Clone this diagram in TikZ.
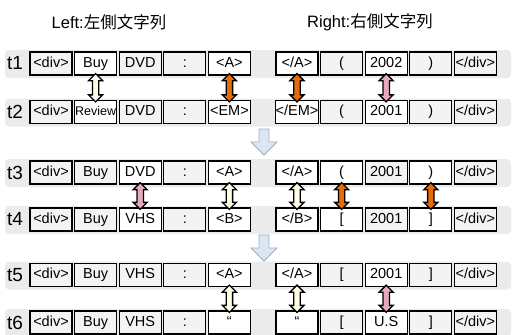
\documentclass[tikz,border=0pt]{standalone}
\usepackage{fontspec}
\setmainfont{Liberation Sans}
\newfontfamily\cjkfont{Noto Sans CJK JP}
\usetikzlibrary{calc}
\definecolor{bandgray}{HTML}{EBEBEB}
\definecolor{cellgray}{HTML}{F3F3F3}
\definecolor{arrorange}{HTML}{E46C0A}
\definecolor{arrpink}{HTML}{E8A9BC}
\definecolor{arrcream}{HTML}{FFFDE3}
\definecolor{flowfill}{HTML}{DCE6F2}
\definecolor{flowline}{HTML}{9DAFC4}
\tikzset{
  cellbase/.style={draw=black, line width=1.3pt, minimum width=42pt, minimum height=23pt,
    inner sep=0pt, text height=10.5pt, text depth=3pt, font=\fontsize{14.5}{16}\selectfont},
  gc/.style={cellbase, fill=cellgray},
  wc/.style={cellbase, fill=white},
  rowlab/.style={inner sep=0pt, font=\fontsize{19}{22}\selectfont},
  titletext/.style={inner sep=0pt, font=\fontsize{16.5}{19}\selectfont},
  band/.style={fill=bandgray, rounded corners=4pt},
  flowarr/.style={fill=flowfill, draw=flowline, line width=0.8pt, line join=miter},
  dblstyle/.style={draw=black, line width=1.3pt, line join=miter}
}
\newcommand\dblarr[3]{%
  \draw[dblstyle, fill=#3] let \p1=(#1.south), \p2=(#2.north) in
    (\x1,\y1+2pt) -- (\x1+7pt,\y1-5pt) -- (\x1+3.2pt,\y1-5pt) -- (\x1+3.2pt,\y2+5pt)
    -- (\x1+7pt,\y2+5pt) -- (\x1,\y2-2pt) -- (\x1-7pt,\y2+5pt) -- (\x1-3.2pt,\y2+5pt)
    -- (\x1-3.2pt,\y1-5pt) -- (\x1-7pt,\y1-5pt) -- cycle;}
\begin{document}
\begin{tikzpicture}[x=1pt,y=-1pt]
\useasboundingbox (0,0) rectangle (512,335);
% row bands
\foreach \c in {63.5,112,172.5,219.5,275,322.5}
  \fill[band] (5,\c-13.5) rectangle (511,\c+14.5);
% titles
\node[titletext] (tleft) at (109,22) {Left:{\cjkfont 左側文字列}};
\node[titletext] (tright) at (370,22) {Right:{\cjkfont 右側文字列}};
% row labels
\node[rowlab] (l1) at (15,63.5) {t1};
\node[rowlab] (l2) at (15,112) {t2};
\node[rowlab] (l3) at (15,172.5) {t3};
\node[rowlab] (l4) at (15,219.5) {t4};
\node[rowlab] (l5) at (15,275) {t5};
\node[rowlab] (l6) at (15,322.5) {t6};
% t1
\node[gc] (r1c1) at (51,63.5) {<div>};
\node[wc] (r1c2) at (95.6,63.5) {Buy};
\node[gc] (r1c3) at (140.2,63.5) {DVD};
\node[gc] (r1c4) at (184.8,63.5) {:};
\node[wc] (r1c5) at (229.4,63.5) {<A>};
\node[wc] (r1c6) at (297,63.5) {</A>};
\node[gc] (r1c7) at (341.6,63.5) {(};
\node[wc] (r1c8) at (386.2,63.5) {2002};
\node[gc] (r1c9) at (430.8,63.5) {)};
\node[gc] (r1c10) at (475.4,63.5) {</div>};
% t2
\node[gc] (r2c1) at (51,112) {<div>};
\node[wc] (r2c2) at (95.6,112) {\fontsize{12.5}{14}\selectfont Review};
\node[gc] (r2c3) at (140.2,112) {DVD};
\node[gc] (r2c4) at (184.8,112) {:};
\node[wc] (r2c5) at (229.4,112) {<EM>};
\node[wc] (r2c6) at (297,112) {</EM>};
\node[gc] (r2c7) at (341.6,112) {(};
\node[wc] (r2c8) at (386.2,112) {2001};
\node[gc] (r2c9) at (430.8,112) {)};
\node[gc] (r2c10) at (475.4,112) {</div>};
% t3
\node[gc] (r3c1) at (51,172.5) {<div>};
\node[gc] (r3c2) at (95.6,172.5) {Buy};
\node[wc] (r3c3) at (140.2,172.5) {DVD};
\node[gc] (r3c4) at (184.8,172.5) {:};
\node[wc] (r3c5) at (229.4,172.5) {<A>};
\node[wc] (r3c6) at (297,172.5) {</A>};
\node[wc] (r3c7) at (341.6,172.5) {(};
\node[gc] (r3c8) at (386.2,172.5) {2001};
\node[wc] (r3c9) at (430.8,172.5) {)};
\node[gc] (r3c10) at (475.4,172.5) {</div>};
% t4
\node[gc] (r4c1) at (51,219.5) {<div>};
\node[gc] (r4c2) at (95.6,219.5) {Buy};
\node[wc] (r4c3) at (140.2,219.5) {VHS};
\node[gc] (r4c4) at (184.8,219.5) {:};
\node[wc] (r4c5) at (229.4,219.5) {<B>};
\node[wc] (r4c6) at (297,219.5) {</B>};
\node[wc] (r4c7) at (341.6,219.5) {[};
\node[gc] (r4c8) at (386.2,219.5) {2001};
\node[wc] (r4c9) at (430.8,219.5) {]};
\node[gc] (r4c10) at (475.4,219.5) {</div>};
% t5
\node[gc] (r5c1) at (51,275) {<div>};
\node[gc] (r5c2) at (95.6,275) {Buy};
\node[gc] (r5c3) at (140.2,275) {VHS};
\node[gc] (r5c4) at (184.8,275) {:};
\node[wc] (r5c5) at (229.4,275) {<A>};
\node[wc] (r5c6) at (297,275) {</A>};
\node[gc] (r5c7) at (341.6,275) {[};
\node[wc] (r5c8) at (386.2,275) {2001};
\node[gc] (r5c9) at (430.8,275) {]};
\node[gc] (r5c10) at (475.4,275) {</div>};
% t6
\node[gc] (r6c1) at (51,322.5) {<div>};
\node[gc] (r6c2) at (95.6,322.5) {Buy};
\node[gc] (r6c3) at (140.2,322.5) {VHS};
\node[gc] (r6c4) at (184.8,322.5) {:};
\node[wc] (r6c5) at (229.4,322.5) {“};
\node[wc] (r6c6) at (297,322.5) {“};
\node[gc] (r6c7) at (341.6,322.5) {[};
\node[wc] (r6c8) at (386.2,322.5) {U.S};
\node[gc] (r6c9) at (430.8,322.5) {]};
\node[gc] (r6c10) at (475.4,322.5) {</div>};
% flow arrows
\coordinate (f1) at (264,129);
\coordinate (f2) at (264,235);
\draw[flowarr] (f1) ++(-5,0) -- ++(10,0) -- ++(0,13) -- ++(8,0) -- ++(-13,13) -- ++(-13,-13) -- ++(8,0) -- cycle;
\draw[flowarr] (f2) ++(-5,0) -- ++(10,0) -- ++(0,13) -- ++(8,0) -- ++(-13,13) -- ++(-13,-13) -- ++(8,0) -- cycle;
% correspondence arrows
\dblarr{r1c2}{r2c2}{arrcream}
\dblarr{r1c5}{r2c5}{arrorange}
\dblarr{r1c6}{r2c6}{arrorange}
\dblarr{r1c8}{r2c8}{arrpink}
\dblarr{r3c3}{r4c3}{arrpink}
\dblarr{r3c5}{r4c5}{arrcream}
\dblarr{r3c6}{r4c6}{arrcream}
\dblarr{r3c7}{r4c7}{arrorange}
\dblarr{r3c9}{r4c9}{arrorange}
\dblarr{r5c5}{r6c5}{arrcream}
\dblarr{r5c6}{r6c6}{arrcream}
\dblarr{r5c8}{r6c8}{arrpink}
\end{tikzpicture}
\end{document}
